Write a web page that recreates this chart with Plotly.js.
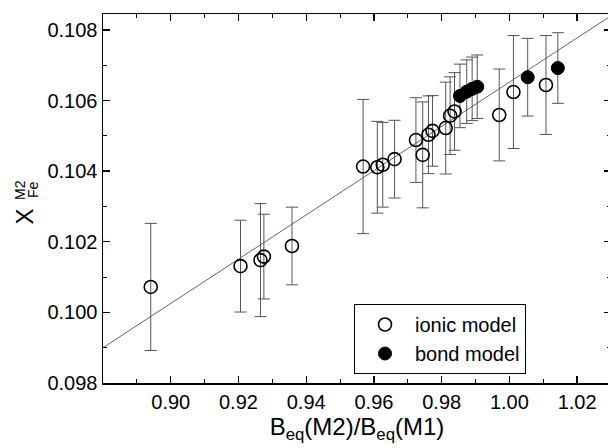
<!DOCTYPE html>
<html>
<head>
<meta charset="utf-8">
<script src="https://cdn.plot.ly/plotly-3.0.1.min.js"></script>
<style>
html,body{margin:0;padding:0;overflow:hidden;background:#fff;}
#chart{width:611px;height:448px;}
</style>
</head>
<body>
<div id="chart"></div>
<script>
// ionic model
var ionicX = [0.8941,0.9206,0.9265,0.9275,0.9358,0.9568,0.9610,0.9626,0.9661,0.9724,0.9744,0.9761,0.9773,0.9812,0.9825,0.9838,0.9970,1.0012,1.0108];
var ionicY = [0.10072,0.10131,0.10148,0.10158,0.10188,0.10413,0.10411,0.10418,0.10434,0.10488,0.10446,0.10503,0.10514,0.10522,0.10557,0.10569,0.10559,0.10624,0.10644];
var ionicErr = [0.0018,0.0013,0.0016,0.0012,0.0011,0.0019,0.0013,0.0012,0.0011,0.0012,0.0015,0.0011,0.0010,0.0013,0.0011,0.0011,0.0013,0.0016,0.0014];
// bond model
var bondX = [0.9854,0.9874,0.9890,0.9905,1.0054,1.0143];
var bondY = [0.10613,0.10625,0.10633,0.10639,0.10666,0.10692];
var bondErr = [0.0009,0.0009,0.0009,0.0009,0.0011,0.0010];
// linear fit
var fitX = [0.88, 1.03];
var fitY = [0.0990, 0.1084];

var xTicks = [0.90,0.92,0.94,0.96,0.98,1.00,1.02];
var xTickText = ['0.90','0.92','0.94','0.96','0.98','1.00','1.02'];
var yTicks = [0.098,0.100,0.102,0.104,0.106,0.108];
var yTickText = ['0.098','0.100','0.102','0.104','0.106','0.108'];

var FONT = 'Liberation Sans, Arial, sans-serif';
var errStyle = function(arr){return {type:'data', array:arr, visible:true, color:'#555', thickness:1, width:6};};

var traces = [
  {x:fitX, y:fitY, mode:'lines', line:{color:'#666', width:1}, showlegend:false, hoverinfo:'skip'},
  {x:ionicX, y:ionicY, mode:'markers', marker:{color:'rgba(0,0,0,0)', size:1}, error_y:errStyle(ionicErr), showlegend:false},
  {x:bondX, y:bondY, mode:'markers', marker:{color:'rgba(0,0,0,0)', size:1}, error_y:errStyle(bondErr), showlegend:false},
  {x:ionicX, y:ionicY, mode:'markers', name:'ionic model',
   marker:{symbol:'circle-open', size:13, color:'#000', line:{width:1.6, color:'#000'}}},
  {x:bondX, y:bondY, mode:'markers', name:'bond model',
   marker:{symbol:'circle', size:13, color:'#000', line:{width:1, color:'#000'}}}
];

var L = 103, W = 508, T = 14, H = 369;
function px(x){return (x - L)/W;}
function py(y){return (T + H - y)/H;}

var layout = {
  width:611, height:448,
  margin:{l:103, r:0, t:14, b:65},
  paper_bgcolor:'#fff', plot_bgcolor:'#fff',
  font:{family:FONT, color:'#000', size:20},
  xaxis:{
    range:[0.88,1.03], tickvals:xTicks, ticktext:xTickText,
    ticks:'inside', ticklen:7, tickwidth:1.3, tickcolor:'#000',
    showline:true, linecolor:'#000', linewidth:1.5, mirror:'allticks',
    showgrid:false, zeroline:false,
    tickfont:{size:20, family:FONT},
    minor:{dtick:0.01, tick0:0.88, ticks:'inside', ticklen:4, tickwidth:1, tickcolor:'#000', showgrid:false},
    title:{text:'B<sub>eq</sub>(M2)/B<sub>eq</sub>(M1)', font:{size:24, family:FONT}, standoff:6}
  },
  yaxis:{
    range:[0.098,0.10845], tickvals:yTicks, ticktext:yTickText,
    ticks:'inside', ticklen:7, tickwidth:1.3, tickcolor:'#000',
    showline:true, linecolor:'#000', linewidth:1.5, mirror:'allticks',
    showgrid:false, zeroline:false,
    tickfont:{size:20, family:FONT},
    minor:{dtick:0.001, tick0:0.098, ticks:'inside', ticklen:4, tickwidth:1, tickcolor:'#000', showgrid:false}
  },
  legend:{
    x:px(354), y:py(304), xanchor:'left', yanchor:'top',
    bordercolor:'#000', borderwidth:1, bgcolor:'#fff',
    font:{size:20, family:FONT}, itemwidth:50, tracegroupgap:0
  },
  annotations:[
    {text:'X', xref:'paper', yref:'paper', x:px(24), y:py(216.5), showarrow:false, textangle:-90,
     xanchor:'center', yanchor:'middle', font:{size:24, family:FONT}},
    {text:'M2', xref:'paper', yref:'paper', x:px(20), y:py(190), showarrow:false, textangle:-90,
     xanchor:'center', yanchor:'middle', font:{size:14, family:FONT}},
    {text:'Fe', xref:'paper', yref:'paper', x:px(33), y:py(190), showarrow:false, textangle:-90,
     xanchor:'center', yanchor:'middle', font:{size:14, family:FONT}}
  ]
};

Plotly.newPlot('chart', traces, layout, {staticPlot:true, displayModeBar:false});
</script>
</body>
</html>
